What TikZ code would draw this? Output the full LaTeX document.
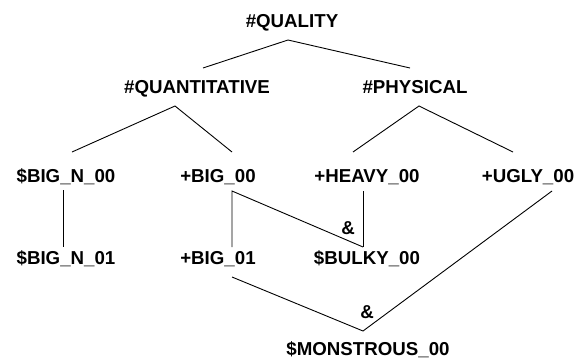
\documentclass[tikz,border=0pt]{standalone}
\usepackage{fontspec}
\setmainfont{Liberation Sans}[BoldFont={Liberation Sans Bold}]
\newfontfamily\lblfont{Liberation Sans Bold}
\begin{document}
\begin{tikzpicture}[x=1pt,y=-1pt,
  lbl/.style={anchor=base,inner sep=0pt,font=\lblfont\fontsize{18.7}{22}\selectfont},
  conn/.style={draw=black,line width=0.9pt}]
\useasboundingbox (0,0) rectangle (581,359);
\node[lbl] (qual) at (292,27) {\#QUALITY};
\node[lbl] (quant) at (197,93) {\#QUANTITATIVE};
\node[lbl] (phys) at (415,93) {\#PHYSICAL};
\node[lbl] (bign0) at (66,182) {\$BIG\_N\_00};
\node[lbl] (big0) at (218,182) {+BIG\_00};
\node[lbl] (heavy) at (367,182) {+HEAVY\_00};
\node[lbl] (ugly) at (528,182) {+UGLY\_00};
\node[lbl] (bign1) at (66,264) {\$BIG\_N\_01};
\node[lbl] (big1) at (218,264) {+BIG\_01};
\node[lbl] (bulky) at (367,264) {\$BULKY\_00};
\node[lbl] (mons) at (368,355) {\$MONSTROUS\_00};
\node[lbl,anchor=center] (amp1) at (348,228) {\&};
\node[lbl,anchor=center] (amp2) at (367,312) {\&};
% tree connectors
\draw[conn] ([shift={(6,-25)}]quant.base) -- ([shift={(-4,13)}]qual.base) -- ([shift={(-5,-25)}]phys.base);
\draw[conn] ([shift={(6,-30)}]bign0.base) -- ([shift={(-22,13)}]quant.base) -- ([shift={(14,-30)}]big0.base);
\draw[conn] ([shift={(-14,-30)}]heavy.base) -- ([shift={(4,13)}]phys.base) -- ([shift={(-15,-30)}]ugly.base);
\draw[conn] ([shift={(-3,8)}]bign0.base) -- ([shift={(-3,-17)}]bign1.base);
\draw[conn] ([shift={(14,-17)}]big1.base) -- ([shift={(14,9)}]big0.base) -- ([shift={(-4,-17)}]bulky.base);
\draw[conn] ([shift={(-4,9)}]heavy.base) -- ([shift={(-4,-17)}]bulky.base);
\draw[conn] ([shift={(14,13)}]big1.base) -- ([shift={(-5,-24)}]mons.base) -- ([shift={(24,9)}]ugly.base);
\end{tikzpicture}
\end{document}
